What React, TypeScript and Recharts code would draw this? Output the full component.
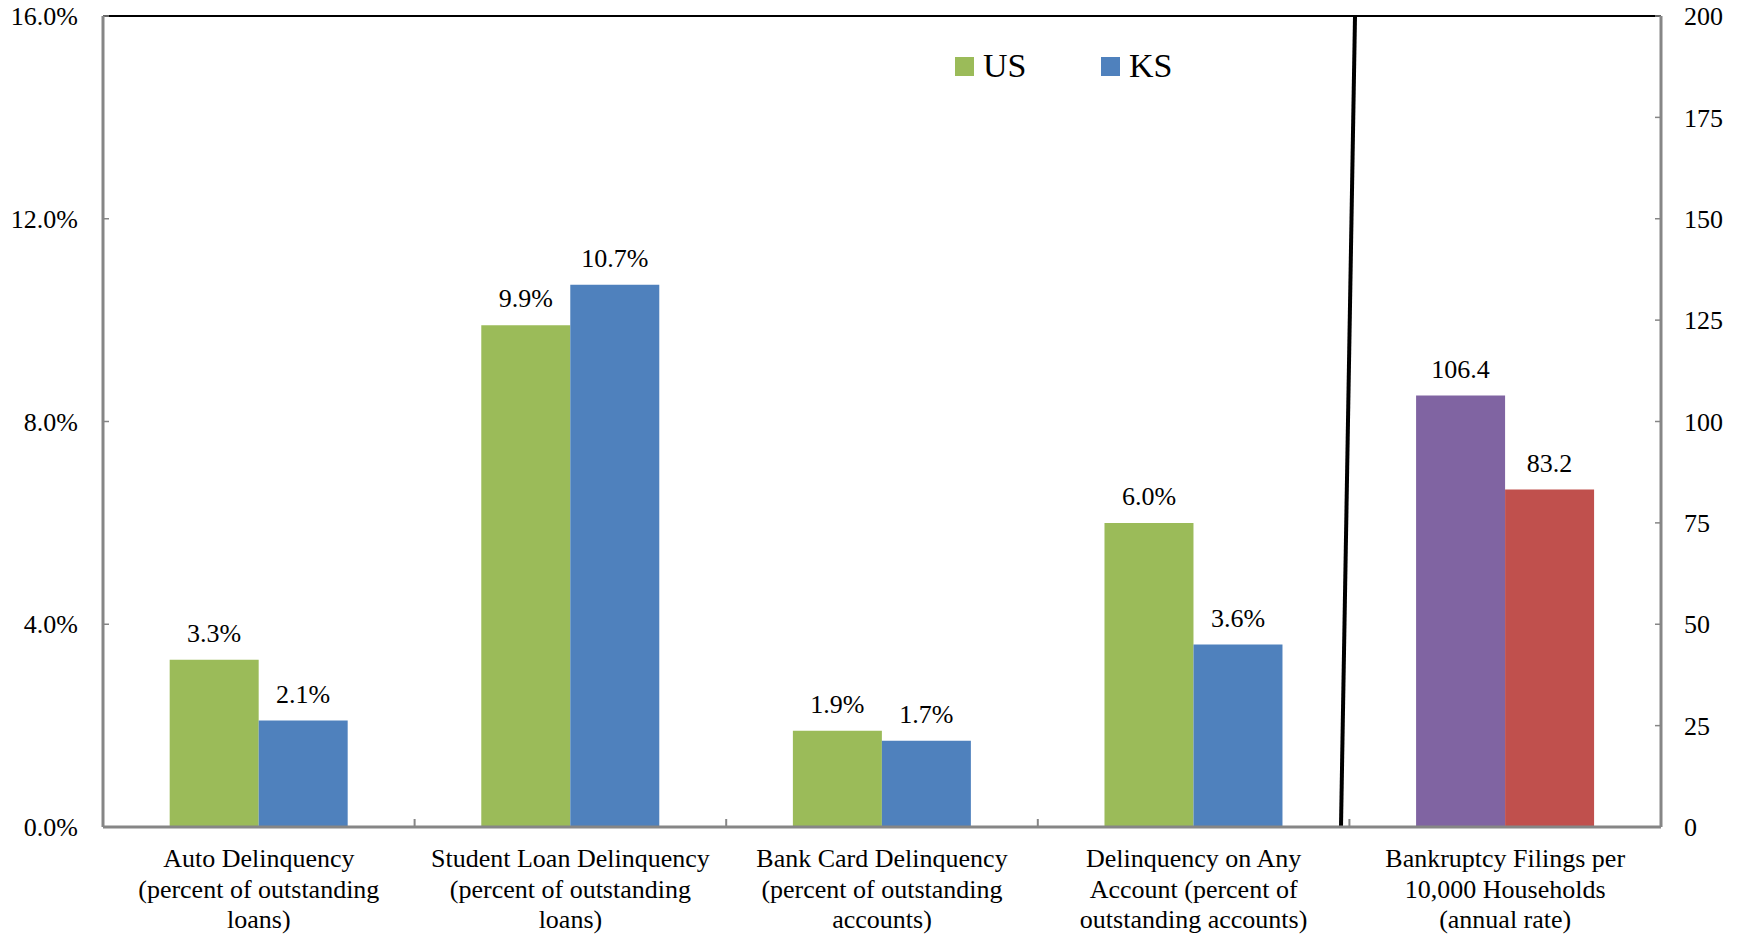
import React from 'react';
import { BarChart, Bar, XAxis, YAxis, LabelList, ReferenceLine } from 'recharts';

const categories = [
  'Auto Delinquency\n(percent of outstanding\nloans)',
  'Student Loan Delinquency\n(percent of outstanding\nloans)',
  'Bank Card Delinquency\n(percent of outstanding\naccounts)',
  'Delinquency on Any\nAccount (percent of\noutstanding accounts)',
  'Bankruptcy Filings per\n10,000 Households\n(annual rate)',
];
const usDelinquency: (number | null)[] = [3.3, 9.9, 1.9, 6.0, null];
const ksDelinquency: (number | null)[] = [2.1, 10.7, 1.7, 3.6, null];
const usBankruptcy: (number | null)[] = [null, null, null, null, 106.4];
const ksBankruptcy: (number | null)[] = [null, null, null, null, 83.2];
const leftTicks = [0, 4, 8, 12, 16];
const rightTicks = [0, 25, 50, 75, 100, 125, 150, 175, 200];
const boundaryTicks = [1, 2, 3, 4];
const dividerTop = 4.018;
const dividerBottom = 3.973;

const legendItems = [
  { name: 'US', color: '#9BBB59' },
  { name: 'KS', color: '#4F81BD' },
];

const data = categories.map((c, i) => ({
  category: c,
  slot: i + 0.5,
  us: usDelinquency[i],
  ks: ksDelinquency[i],
  usB: usBankruptcy[i],
  ksB: ksBankruptcy[i],
}));

const FONT = '"Liberation Serif", "Times New Roman", serif';
const AXIS_GRAY = '#868686';
const FS = 26;

const CategoryTick = (props: any) => {
  const { x, y, payload } = props;
  const lines = String(payload.value).split('\n');
  return (
    <text x={x} y={y} textAnchor="middle" fontSize={FS} fill="#000" fontFamily={FONT}>
      {lines.map((l, i) => (
        <tspan key={i} x={x} dy={i === 0 ? 19 : 30.6}>
          {l}
        </tspan>
      ))}
    </text>
  );
};

const BoundaryTickShape = (props: any) => {
  const { x1, y1, y2 } = props;
  const bottom = Math.max(Number(y1), Number(y2));
  return <line x1={x1} x2={x1} y1={bottom} y2={bottom - 8} stroke={AXIS_GRAY} strokeWidth={2} />;
};

const pct = (v: any) => (v == null ? '' : `${Number(v).toFixed(1)}%`);
const num = (v: any) => (v == null ? '' : Number(v).toFixed(1));

export default function App() {
  return (
    <div style={{ position: 'absolute', left: 0, top: 0, width: 1745, height: 936, background: '#fff', fontFamily: FONT }}>
      <BarChart
        width={1745}
        height={936}
        data={data}
        margin={{ top: 16, right: 0, left: 0, bottom: 0 }}
        barCategoryGap="21.4%"
        barGap={0}
      >
        <XAxis
          xAxisId="cat"
          dataKey="category"
          height={109}
          axisLine={{ stroke: AXIS_GRAY, strokeWidth: 3 }}
          tickLine={false}
          tickSize={0}
          tickMargin={21}
          tick={<CategoryTick />}
          interval={0}
        />
        <XAxis xAxisId="cat2" dataKey="category" hide />
        <XAxis xAxisId="grid" dataKey="slot" type="number" domain={[0, 5]} hide allowDataOverflow />
        <YAxis
          yAxisId="left"
          width={103}
          domain={[0, 16]}
          ticks={leftTicks}
          tickFormatter={pct}
          axisLine={{ stroke: AXIS_GRAY, strokeWidth: 3 }}
          tickLine={{ stroke: AXIS_GRAY, strokeWidth: 1.5 }}
          tickSize={-6}
          tickMargin={31}
          tick={{ fontSize: FS, fill: '#000', fontFamily: FONT }}
          allowDataOverflow
        />
        <YAxis
          yAxisId="right"
          orientation="right"
          width={84}
          domain={[0, 200]}
          ticks={rightTicks}
          axisLine={{ stroke: AXIS_GRAY, strokeWidth: 3 }}
          tickLine={{ stroke: AXIS_GRAY, strokeWidth: 1.5 }}
          tickSize={-6}
          tickMargin={29}
          tick={{ fontSize: FS, fill: '#000', fontFamily: FONT, textAnchor: 'start' }}
          allowDataOverflow
        />
        <ReferenceLine yAxisId="left" xAxisId="cat" y={16} stroke="#000" strokeWidth={2} />
        {boundaryTicks.map((t) => (
          <ReferenceLine key={t} xAxisId="grid" yAxisId="left" x={t} shape={<BoundaryTickShape />} />
        ))}
        <Bar dataKey="us" name="US" xAxisId="cat" yAxisId="left" fill="#9BBB59" isAnimationActive={false}>
          <LabelList dataKey="us" position="top" offset={18} formatter={pct} fontSize={FS} fill="#000" fontFamily={FONT} />
        </Bar>
        <Bar dataKey="ks" name="KS" xAxisId="cat" yAxisId="left" fill="#4F81BD" isAnimationActive={false}>
          <LabelList dataKey="ks" position="top" offset={18} formatter={pct} fontSize={FS} fill="#000" fontFamily={FONT} />
        </Bar>
        <Bar dataKey="usB" name="US bankruptcy" xAxisId="cat2" yAxisId="right" fill="#8064A2" isAnimationActive={false}>
          <LabelList dataKey="usB" position="top" offset={18} formatter={num} fontSize={FS} fill="#000" fontFamily={FONT} />
        </Bar>
        <Bar dataKey="ksB" name="KS bankruptcy" xAxisId="cat2" yAxisId="right" fill="#C0504D" isAnimationActive={false}>
          <LabelList dataKey="ksB" position="top" offset={18} formatter={num} fontSize={FS} fill="#000" fontFamily={FONT} />
        </Bar>
        <ReferenceLine
          xAxisId="grid"
          yAxisId="left"
          segment={[
            { x: dividerTop, y: 16 },
            { x: dividerBottom, y: 0 },
          ]}
          stroke="#000"
          strokeWidth={4}
          ifOverflow="visible"
        />
      </BarChart>
      <div style={{ position: 'absolute', left: 955, top: 49, height: 34, display: 'flex', alignItems: 'center' }}>
        {legendItems.map((it) => (
          <div key={it.name} style={{ width: 146, display: 'flex', alignItems: 'center' }}>
            <div style={{ width: 19, height: 19, background: it.color, marginRight: 9 }} />
            <span style={{ fontSize: 34, lineHeight: '34px', color: '#000' }}>{it.name}</span>
          </div>
        ))}
      </div>
    </div>
  );
}
